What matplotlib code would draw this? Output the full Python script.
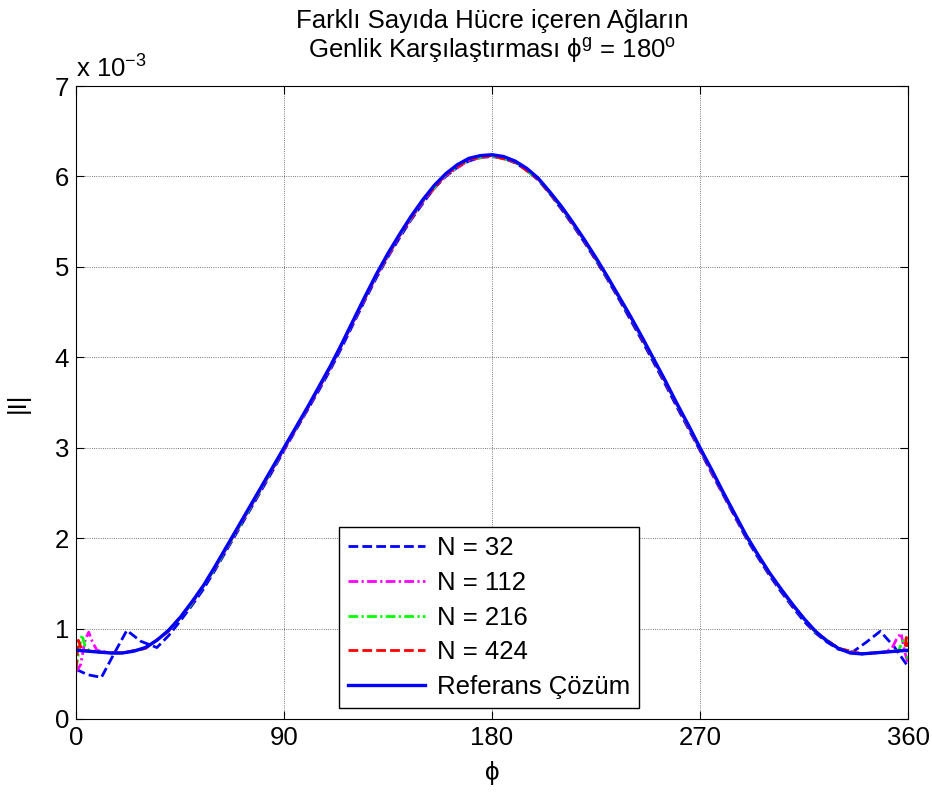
import matplotlib
matplotlib.use("Agg")
import matplotlib.pyplot as plt
import numpy as np

plt.rcParams['font.family'] = ['Liberation Sans', 'DejaVu Sans']
plt.rcParams['mathtext.fontset'] = 'custom'
plt.rcParams['mathtext.rm'] = 'Liberation Sans'
plt.rcParams['mathtext.it'] = 'Liberation Sans:italic'

# ---- data (values in units of 1e-3) ----
ref_phi = [0, 5, 10, 15, 20, 25, 30, 35, 40, 45, 50, 55, 60, 65, 70, 75, 80, 85, 90,
           95, 100, 105, 110, 115, 120, 125, 130, 135, 140, 145, 150, 155, 160, 165,
           170, 175, 180, 185, 190, 195, 200, 205, 210, 215, 220, 225, 230, 235, 240,
           245, 250, 255, 260, 265, 270, 275, 280, 285, 290, 295, 300, 305, 310, 315,
           320, 325, 330, 335, 340, 345, 350, 355, 360]
ref_val = [0.76, 0.75, 0.74, 0.73, 0.73, 0.75, 0.79, 0.87, 0.98, 1.12, 1.29, 1.47, 1.68,
           1.90, 2.12, 2.34, 2.56, 2.78, 3.00, 3.22, 3.44, 3.67, 3.90, 4.15, 4.41, 4.67,
           4.92, 5.15, 5.36, 5.56, 5.74, 5.90, 6.03, 6.13, 6.20, 6.23, 6.24, 6.22, 6.17,
           6.09, 5.98, 5.83, 5.67, 5.49, 5.30, 5.10, 4.89, 4.67, 4.45, 4.22, 3.98, 3.74,
           3.49, 3.25, 3.00, 2.76, 2.51, 2.27, 2.03, 1.82, 1.62, 1.44, 1.27, 1.11, 0.97,
           0.86, 0.78, 0.73, 0.72, 0.73, 0.74, 0.75, 0.76]

n32_phi = [0, 5, 11, 16, 22, 28, 35, 40, 45, 50, 55, 60, 65, 70, 75, 80, 85, 90, 95, 100,
           105, 110, 115, 120, 125, 130, 135, 140, 145, 150, 155, 160, 165, 170, 175, 180,
           185, 190, 195, 200, 205, 210, 215, 220, 225, 230, 235, 240, 245, 250, 255, 260,
           265, 270, 275, 280, 285, 290, 295, 300, 305, 310, 315, 320, 325, 330, 336, 342,
           348, 354, 360]
n32_val = [0.55, 0.49, 0.46, 0.70, 0.98, 0.86, 0.79, 0.92, 1.08, 1.25, 1.43, 1.64, 1.86,
           2.08, 2.30, 2.52, 2.74, 2.97, 3.19, 3.41, 3.63, 3.86, 4.11, 4.37, 4.63, 4.88,
           5.11, 5.32, 5.52, 5.70, 5.87, 6.00, 6.10, 6.17, 6.21, 6.22, 6.20, 6.15, 6.07,
           5.96, 5.81, 5.64, 5.46, 5.27, 5.07, 4.86, 4.64, 4.41, 4.18, 3.94, 3.70, 3.45,
           3.21, 2.97, 2.72, 2.48, 2.24, 2.00, 1.79, 1.59, 1.41, 1.24, 1.08, 0.95, 0.85,
           0.77, 0.74, 0.85, 0.97, 0.80, 0.58]

n112_phi = [0, 2, 4, 5.5, 7, 9, 15, 20, 30, 40, 50, 60, 70, 80, 90, 100, 110, 120, 130,
            140, 150, 160, 170, 180, 190, 200, 210, 220, 230, 240, 250, 260, 270, 280,
            290, 300, 310, 320, 330, 340, 350, 353, 355, 357, 358.5, 360]
n112_val = [0.52, 0.60, 0.88, 0.96, 0.86, 0.76, 0.73, 0.73, 0.78, 0.97, 1.27, 1.66, 2.10,
            2.54, 2.98, 3.42, 3.88, 4.39, 4.90, 5.34, 5.72, 6.01, 6.18, 6.23, 6.16, 5.97,
            5.66, 5.29, 4.88, 4.44, 3.97, 3.48, 2.98, 2.49, 2.02, 1.61, 1.26, 0.96, 0.78,
            0.72, 0.74, 0.78, 0.88, 0.95, 0.75, 0.62]

n216_phi = [0, 1.5, 2.6, 4, 6, 15, 20, 30, 40, 50, 60, 70, 80, 90, 100, 110, 120, 130,
            140, 150, 160, 170, 180, 190, 200, 210, 220, 230, 240, 250, 260, 270, 280,
            290, 300, 310, 320, 330, 340, 350, 356, 358, 359, 360]
n216_val = [0.55, 0.80, 0.93, 0.80, 0.75, 0.73, 0.73, 0.78, 0.97, 1.27, 1.66, 2.10, 2.54,
            2.99, 3.43, 3.89, 4.40, 4.91, 5.35, 5.73, 6.02, 6.19, 6.23, 6.16, 5.97, 5.66,
            5.29, 4.88, 4.44, 3.97, 3.48, 2.99, 2.50, 2.02, 1.61, 1.26, 0.96, 0.78, 0.72,
            0.74, 0.76, 0.88, 0.90, 0.66]

n424_phi = [0, 0.5, 1, 2, 3, 10, 20, 30, 40, 50, 60, 70, 80, 90, 100, 110, 120, 130, 140,
            150, 160, 170, 180, 190, 200, 210, 220, 230, 240, 250, 260, 270, 280, 290,
            300, 310, 320, 330, 340, 350, 358.5, 359.3, 360]
n424_val = [0.55, 0.70, 0.87, 0.80, 0.76, 0.74, 0.73, 0.78, 0.97, 1.28, 1.67, 2.11, 2.55,
            2.99, 3.43, 3.89, 4.40, 4.91, 5.35, 5.73, 6.02, 6.19, 6.23, 6.16, 5.97, 5.66,
            5.29, 4.88, 4.44, 3.97, 3.48, 2.99, 2.50, 2.02, 1.61, 1.26, 0.96, 0.78, 0.72,
            0.74, 0.76, 0.90, 0.80]

labels = ['N = 32', 'N = 112', 'N = 216', 'N = 424', 'Referans Çözüm']
xticks = [0, 90, 180, 270, 360]
yticks = [0, 1, 2, 3, 4, 5, 6, 7]

# ---- figure ----
fig = plt.figure(figsize=(9.32, 7.93), dpi=100)
ax = fig.add_axes([76 / 932, 1 - 719 / 793, 832 / 932, 633 / 793])

fs = 18.5
ax.plot(n32_phi, n32_val, color=(0, 0, 1), lw=2.0, dashes=(3.5, 1.5), label=labels[0])
ax.plot(n112_phi, n112_val, color=(1, 0, 1), lw=2.0, dashes=(3.5, 1.2, 0.8, 1.2), label=labels[1])
ax.plot(n216_phi, n216_val, color=(0, 1, 0), lw=2.0, dashes=(3.5, 1.2, 0.8, 1.2), label=labels[2])
ax.plot(n424_phi, n424_val, color=(1, 0, 0), lw=2.0, dashes=(3.5, 1.5), label=labels[3])
ax.plot(ref_phi, ref_val, color=(0, 0, 1), lw=2.4, label=labels[4])

ax.set_xlim(0, 360)
ax.set_ylim(0, 7)
ax.set_xticks(xticks)
ax.set_yticks(yticks)
ax.tick_params(direction='in', length=6, width=0.8, top=True, right=True,
               labelsize=fs, pad=5)
ax.grid(True, color='black', linestyle=':', linewidth=0.6, alpha=0.7)
for s in ax.spines.values():
    s.set_linewidth(0.8)

ax.set_xlabel('ϕ', fontsize=fs, labelpad=8)
ax.set_ylabel('|I|', fontsize=fs, labelpad=18)
ax.set_title('Farklı Sayıda Hücre içeren Ağların\n'
             'Genlik Karşılaştırması ϕ$^{\\mathrm{g}}$ = 180$^{\\mathrm{o}}$',
             fontsize=fs, pad=20, linespacing=1.15)
ax.text(0.0, 1.006, 'x 10$^{\\mathrm{-3}}$', transform=ax.transAxes,
        fontsize=fs, ha='left', va='bottom')

leg = ax.legend(loc='lower left', bbox_to_anchor=(0.316, 0.017), fontsize=fs,
                handlelength=3.0, handletextpad=0.45, labelspacing=0.42,
                borderpad=0.35, borderaxespad=0, fancybox=False, framealpha=1,
                edgecolor='black')
leg.get_frame().set_linewidth(1.0)

fig.savefig('out.png', dpi=100)
